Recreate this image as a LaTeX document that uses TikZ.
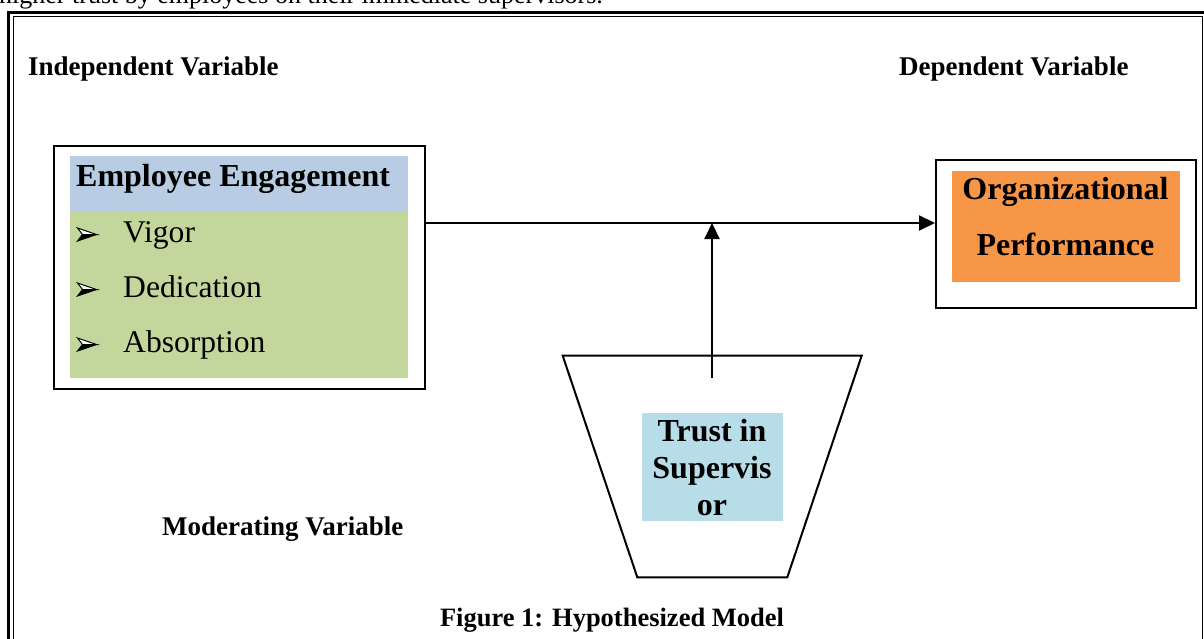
\documentclass[tikz,border=0pt]{standalone}
\usepackage{fontspec}
\setmainfont{Liberation Serif}
\usetikzlibrary{arrows.meta}
\definecolor{headblue}{HTML}{B8CCE4}
\definecolor{itemgreen}{HTML}{C3D69B}
\definecolor{perforange}{HTML}{F79646}
\definecolor{trustblue}{HTML}{B7DDE8}
\tikzset{
  label26/.style={inner sep=0pt, font=\bfseries\fontsize{27}{32}\selectfont},
  boxline/.style={draw=black, line width=2pt, inner sep=0pt},
  panel/.style={inner sep=0pt, draw=none},
  bigbold/.style={inner sep=0pt, font=\bfseries\fontsize{32}{38}\selectfont},
  itemtext/.style={inner sep=0pt, anchor=base west, font=\fontsize{31.6}{38}\selectfont},
  link/.style={line width=2pt, -{Triangle[length=16pt,width=15pt]}},
  % three-d arrowhead bullet: outlined upper half, filled lower half
  bulletmark/.pic={
    \draw[line width=1pt, line join=miter, fill=white] (0,-6.5) -- (19,0) -- (5,0) -- cycle;
    \fill[black] (0,6.5) -- (19,0) -- (5,0) -- cycle;
    \draw[line width=1pt, line join=miter] (0,6.5) -- (19,0) -- (5,0) -- cycle;
  },
}
\begin{document}
\begin{tikzpicture}[x=1pt,y=-1pt]
\useasboundingbox (0,0) rectangle (1204,639);
\clip (0,0) rectangle (1204,639);

% running text above the figure frame
\node[inner sep=0pt, anchor=base west, font=\fontsize{26}{31}\selectfont] (runtext) at (-1,3.5)
  {higher trust by employees on their immediate supervisors.};

% double frame around the figure
\draw[line width=3pt] (8.5,12.5) rectangle (1207.5,700);
\draw[line width=1.3pt] (13.5,16.5) rectangle (1202.5,700);

% variable headings
\node[label26, anchor=base west] (indep) at (28,76) {Independent Variable};
\node[label26, anchor=base west] (dep) at (899,76) {Dependent Variable};
\node[label26, anchor=base west] (moder) at (162,535.5) {Moderating Variable};
\node[label26, anchor=base, font=\bfseries\fontsize{26.5}{32}\selectfont] (caption) at (612,626) {Figure 1: Hypothesized Model};

% independent variable box
\node[boxline, anchor=north west, minimum width=371pt, minimum height=243pt] (eebox) at (53,145) {};
\node[panel, fill=headblue, anchor=north west, minimum width=338pt, minimum height=55pt] (eehead) at (70,156) {};
\node[panel, fill=itemgreen, anchor=north west, minimum width=338pt, minimum height=167pt] (eeitems) at (70,211) {};
\node[bigbold, anchor=base west] (eetitle) at (76,187) {Employee Engagement};
\pic at (77.5,234.5) {bulletmark};
\node[itemtext] (vigor) at (123,242) {Vigor};
\pic at (77.5,289.5) {bulletmark};
\node[itemtext] (dedic) at (123,297) {Dedication};
\pic at (77.5,344.5) {bulletmark};
\node[itemtext] (absorb) at (123,352) {Absorption};

% dependent variable box
\node[boxline, anchor=north west, minimum width=260pt, minimum height=148pt] (opbox) at (935,159) {};
\node[panel, fill=perforange, anchor=north west, minimum width=227.6pt, minimum height=111pt] (opfill) at (951.7,170.7) {};
\node[bigbold, anchor=base] (org) at (1065.5,200) {Organizational};
\node[bigbold, anchor=base] (perf) at (1065.5,255) {Performance};

% moderating variable: inverted trapezium
\coordinate (tl) at (562.7,355.7);
\coordinate (tr) at (861.7,355.7);
\coordinate (br) at (787.3,577.3);
\coordinate (bl) at (637.3,577.3);
\draw[line width=2pt, line join=miter] (tl) -- (tr) -- (br) -- (bl) -- cycle;
\node[panel, fill=trustblue, anchor=north west, minimum width=141pt, minimum height=108.3pt] (trustfill) at (641.7,412.7) {};
\node[bigbold, anchor=base] (trust1) at (712,441.7) {Trust in};
\node[bigbold, anchor=base] (trust2) at (712,478) {Supervis};
\node[bigbold, anchor=base] (trust3) at (712,515) {or};

% connectors
\coordinate (junction) at (712,223);
\coordinate (modstart) at (712,378);
\draw[link] (eebox.east |- junction) -- (opbox.west |- junction);
\draw[link] (modstart) -- (junction);
\end{tikzpicture}
\end{document}
